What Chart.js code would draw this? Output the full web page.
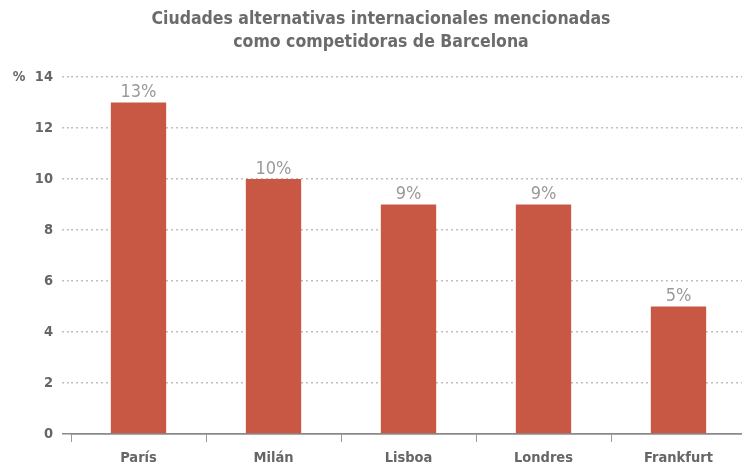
<!DOCTYPE html>
<html>
<head>
<meta charset="utf-8">
<script src="https://cdn.jsdelivr.net/npm/chart.js@4"></script>
<style>
  html, body { margin: 0; padding: 0; background: #fff; overflow: hidden; }
  #wrap { position: relative; width: 746px; height: 468px; }
  #title {
    position: absolute; left: 0; top: 7px; width: 762px; text-align: center;
    font-family: "DejaVu Sans Condensed", "DejaVu Sans", sans-serif; font-weight: bold;
    font-size: 17.5px; line-height: 23px; color: #6b6b6b;
  }
</style>
</head>
<body>
<div id="wrap">
  <div id="title">Ciudades alternativas internacionales mencionadas<br>como competidoras de Barcelona</div>
  <canvas id="bar-chart" width="746" height="468"></canvas>
</div>
<script>
const cities = ["París", "Milán", "Lisboa", "Londres", "Frankfurt"];
const shares = [13, 10, 9, 9, 5];
const yTicks = [0, 2, 4, 6, 8, 10, 12, 14];

const FONT = "'DejaVu Sans Condensed', 'DejaVu Sans', sans-serif";
const GREY = "#666666";
const isZero = (c) => c.tick && c.tick.value === 0;

// value labels on top of bars + the "%" unit label
const labelsPlugin = {
  id: "labels",
  afterDatasetsDraw(chart) {
    const ctx = chart.ctx;
    const meta = chart.getDatasetMeta(0);
    ctx.save();
    ctx.fillStyle = "#9a9a9a";
    ctx.font = "18px " + FONT;
    ctx.textAlign = "center";
    ctx.textBaseline = "bottom";
    meta.data.forEach((bar, i) => {
      ctx.fillText(shares[i] + "%", bar.x, bar.y - 1);
    });
    ctx.fillStyle = GREY;
    ctx.font = "bold 14px " + FONT;
    ctx.textBaseline = "middle";
    ctx.fillText("%", 19, chart.scales.y.getPixelForValue(14));
    ctx.restore();
  },
};

let config = {
  type: "bar",
  data: {
    labels: cities,
    datasets: [
      {
        data: shares,
        backgroundColor: "#c85844",
        borderWidth: 0,
        barPercentage: 0.41,
        categoryPercentage: 1,
      },
    ],
  },
  options: {
    responsive: false,
    animation: false,
    layout: { padding: { top: 77, left: 0, right: 0, bottom: 0 } },
    plugins: {
      legend: { display: false },
      tooltip: { enabled: false },
    },
    scales: {
      x: {
        afterFit: (s) => { s.height = 34; },
        grid: {
          offset: true,
          drawOnChartArea: false,
          color: "#999999",
          tickLength: 8,
        },
        border: { display: true, color: "#8a8a8a", width: 1.5 },
        ticks: {
          color: GREY,
          font: { family: FONT, size: 14.5, weight: "bold" },
          padding: 8,
        },
      },
      y: {
        min: 0,
        max: 14,
        afterFit: (s) => { s.width = 71; },
        afterBuildTicks: (s) => { s.ticks = yTicks.map((v) => ({ value: v })); },
        grid: {
          color: (c) => (isZero(c) ? "#8a8a8a" : "#c9bcb8"),
          lineWidth: 1.5,
          tickLength: 9,
          tickBorderDash: (c) => (isZero(c) ? [] : [2, 3]),
        },
        border: {
          display: false,
          dash: (c) => (isZero(c) ? [] : [2, 3]),
        },
        ticks: {
          color: GREY,
          font: { family: FONT, size: 14.5, weight: "bold" },
          padding: 9,
        },
      },
    },
  },
  plugins: [labelsPlugin],
};

let ctx = document.getElementById("bar-chart").getContext("2d");
new Chart(ctx, config);
</script>
</body>
</html>
